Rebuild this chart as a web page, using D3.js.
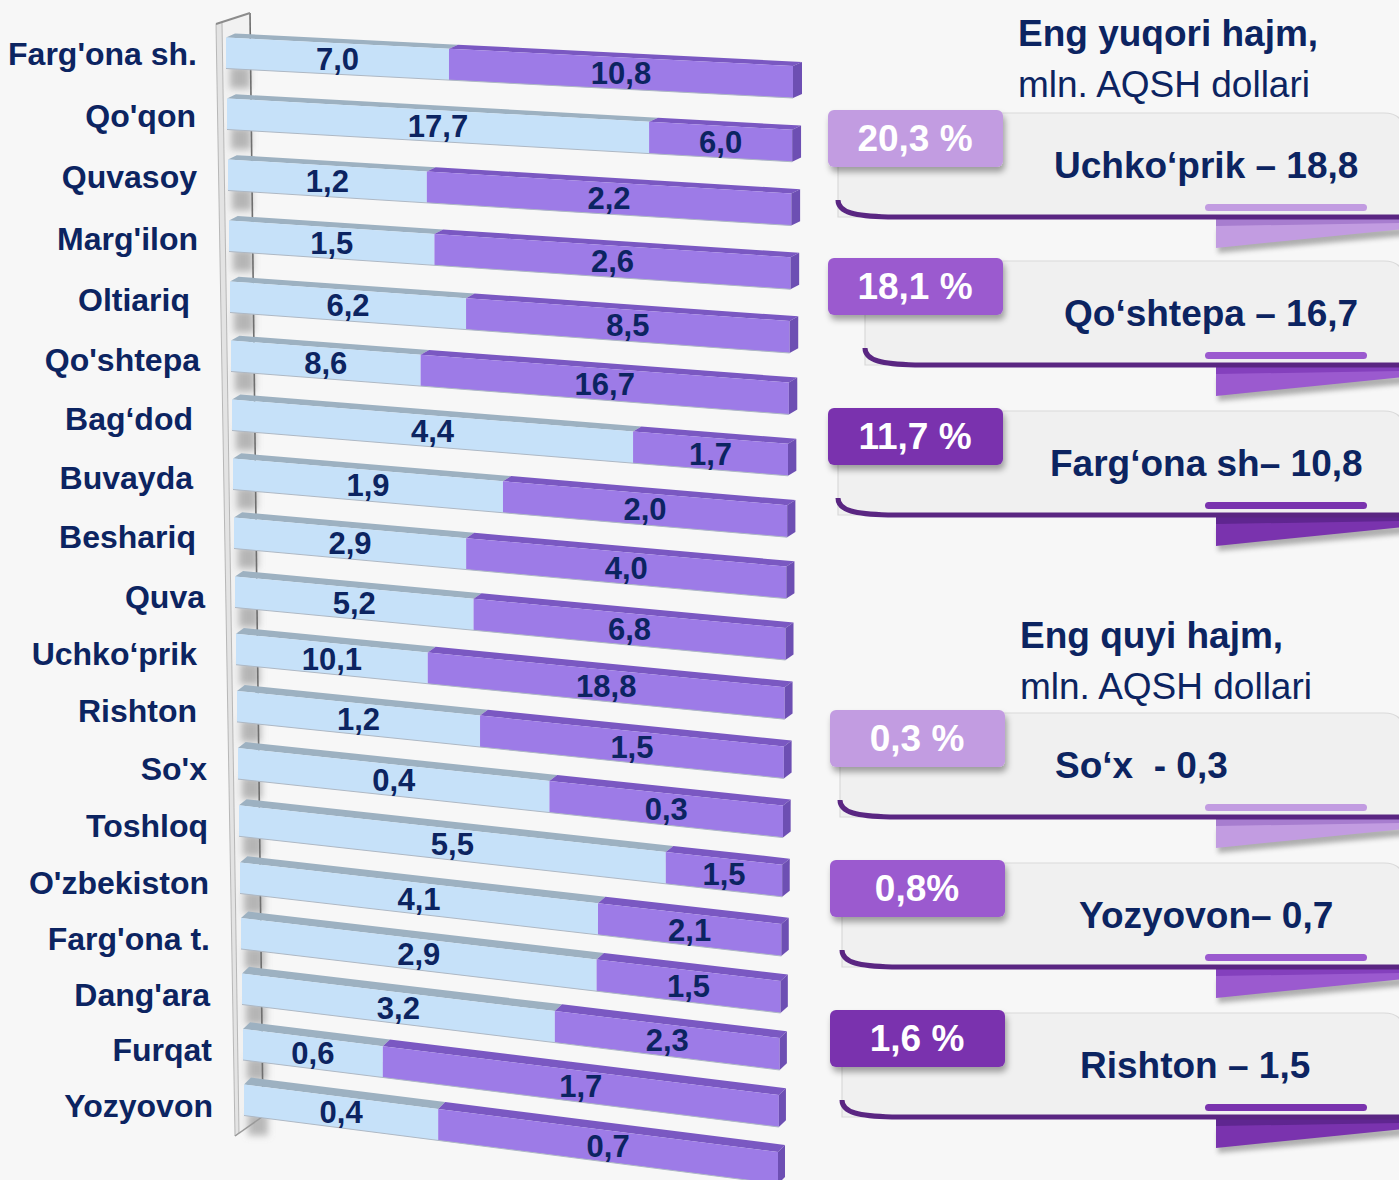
<!DOCTYPE html>
<html><head><meta charset="utf-8">
<script src="https://cdn.jsdelivr.net/npm/d3@7"></script>
<style>
html,body{margin:0;padding:0;background:#f7f7f7;}
svg{display:block;font-family:"Liberation Sans",Arial,sans-serif;}
</style></head><body>
<svg id="chart" width="1399" height="1180"></svg>
<script>
// ---- data ----
const categories = ["Farg'ona sh.", "Qo'qon", "Quvasoy", "Marg'ilon", "Oltiariq ", "Qo'shtepa",
  "Bag‘dod", "Buvayda", "Beshariq", "Quva", "Uchko‘prik", "Rishton", "So'x", "Toshloq",
  "O'zbekiston", "Farg'ona t.", "Dang'ara", "Furqat", "Yozyovon"];
const seriesA = [7.0, 17.7, 1.2, 1.5, 6.2, 8.6, 4.4, 1.9, 2.9, 5.2, 10.1, 1.2, 0.4, 5.5, 4.1, 2.9, 3.2, 0.6, 0.4];
const seriesB = [10.8, 6.0, 2.2, 2.6, 8.5, 16.7, 1.7, 2.0, 4.0, 6.8, 18.8, 1.5, 0.3, 1.5, 2.1, 1.5, 2.3, 1.7, 0.7];

const headings = ["Eng yuqori hajm,", "Eng quyi hajm,"];
const headingUnit = "mln. AQSH dollari";
const calloutPct = ["20,3 %", "18,1 %", "11,7 %", "0,3 %", "0,8%", "1,6 %"];
const calloutText = ["Uchko‘prik – 18,8", "Qo‘shtepa – 16,7", "Farg‘ona sh– 10,8",
  "So‘x  - 0,3", "Yozyovon– 0,7", "Rishton – 1,5"];

// ---- layout ----
const W = 1399, H = 1180;
const navy = "#0c2461";
const faceColors = { a: { front: "#c6e1f9", top: "#9db1c1" }, b: { front: "#9d7be7", top: "#7a58c2", side: "#6d4fb3" } };
const tones = ["#c29ce1", "#9b5acf", "#7a33ae"];
const toneDark = ["#a77dcf", "#8440bd", "#5f2690"];
const calloutTop = [110, 258, 408, 710, 860, 1010];
const calloutTone = [0, 1, 2, 0, 1, 2];
const cardLeft = [838, 865, 838, 840, 842, 842];
const calloutTextX = [1054, 1064, 1050, 1055, 1079, 1080];
const headingY = [46, 648];
// right edge of each category label
const labelRight = [197, 196, 197, 198, 190, 200, 193, 193, 196, 205, 197, 197, 207, 208, 209, 210, 210, 212, 213];

const svg = d3.select("#chart");
svg.append("rect").attr("width", W).attr("height", H).attr("fill", "#f7f7f7");

const defs = svg.append("defs");
defs.append("filter").attr("id", "blur").attr("x", "-50%").attr("y", "-50%").attr("width", "200%").attr("height", "200%")
  .append("feGaussianBlur").attr("stdDeviation", 3.5);
defs.append("filter").attr("id", "tabShadow").attr("x", "-20%").attr("y", "-30%").attr("width", "140%").attr("height", "170%")
  .append("feDropShadow").attr("dx", 2).attr("dy", 5).attr("stdDeviation", 3)
  .attr("flood-color", "#000").attr("flood-opacity", 0.35);
defs.append("filter").attr("id", "softShadow").attr("x", "-20%").attr("y", "-50%").attr("width", "140%").attr("height", "200%")
  .append("feGaussianBlur").attr("stdDeviation", 2.5);

// ---- scales: bars recede in perspective, so each end of the bar gets its own scale ----
const n = categories.length;
const xLeft = d3.scaleLinear().domain([0, n - 1]).range([226, 244]);
const xRight = d3.scaleLinear().domain([0, n - 1]).range([793, 778]);
const yLeft = d3.scaleLinear().domain([0, 4, 9, 14, 18]).range([53, 297, 592, 878, 1100]);
const yRight = d3.scaleLinear().domain([0, 4, 9, 14, 18]).range([82, 337, 644, 940, 1168]);
const depthX = d3.scaleLinear().domain([0, n - 1]).range([9, 7]);
const depthY = d3.scaleLinear().domain([0, n - 1]).range([-4, -7]);
const labelDrop = d3.scaleLinear().domain([0, 5, n - 1]).range([12, 15, 17]);

// point on bar i at fraction f along its length; v = -1 top edge, 0 centre, 1 bottom edge
function pt(i, f, v) {
  const x = xLeft(i) + (xRight(i) - xLeft(i)) * f;
  const yc = yLeft(i) + (yRight(i) - yLeft(i)) * f;
  const h = 15.5 + 0.5 * f;
  return [x, yc + v * h];
}
const shift = (p, i) => [p[0] + depthX(i), p[1] + depthY(i)];
const line = d3.line();
const poly = pts => line(pts) + "Z";

// 100% stacked shares
const rows = categories.map((c, i) => ({ name: c, a: seriesA[i], b: seriesB[i] }));
const stacked = d3.stack().keys(["a", "b"]).offset(d3.stackOffsetExpand)(rows);

// ---- back wall ----
const wall = svg.append("g");
wall.append("path").attr("d", poly([[222, 22], [250, 13], [263, 1117], [239, 1133]])).attr("fill", "#f1f1f1");
const shadows = wall.append("g").attr("filter", "url(#blur)");
rows.forEach((r, i) => {
  const b = pt(i, 0, 1);
  shadows.append("rect").attr("x", b[0] + 4).attr("y", b[1] - 2).attr("width", 20).attr("height", 22)
    .attr("fill", "#8e8e8e").attr("opacity", 0.6);
});
wall.append("path").attr("d", poly([[216, 24], [222, 22], [239, 1133], [235, 1136]]))
  .attr("fill", "#e3e3e3").attr("stroke", "#a9a9a9").attr("stroke-width", 0.8);
wall.append("path").attr("d", line([[250, 13], [263, 1117]])).attr("stroke", "#6f6f6f").attr("stroke-width", 1.6).attr("fill", "none");
wall.append("path").attr("d", line([[216, 24], [250, 13]])).attr("stroke", "#8c8c8c").attr("stroke-width", 2).attr("fill", "none");
wall.append("path").attr("d", line([[235, 1136], [262, 1117]])).attr("stroke", "#9a9a9a").attr("stroke-width", 1.5).attr("fill", "none");

// ---- bars ----
const bars = svg.append("g");
rows.forEach((r, i) => {
  const g = bars.append("g");
  stacked.forEach(layer => {
    const key = layer.key;
    const [f0, f1] = layer[i];
    const c = faceColors[key];
    const t0 = pt(i, f0, -1), t1 = pt(i, f1, -1), b1 = pt(i, f1, 1), b0 = pt(i, f0, 1);
    g.append("path").attr("d", poly([t0, t1, shift(t1, i), shift(t0, i)])).attr("fill", c.top);
    g.append("path").attr("d", poly([t0, t1, b1, b0])).attr("fill", c.front);
    if (key === "b") {
      g.append("path").attr("d", poly([t1, shift(t1, i), shift(b1, i), b1])).attr("fill", c.side);
    }
  });
  g.append("path").attr("d", line([pt(i, 0, 1), pt(i, 1, 1)]))
    .attr("stroke", "#aeb8c4").attr("stroke-width", 1).attr("fill", "none");
});

// value labels, centred on each segment
const valueLabels = svg.append("g").attr("font-size", 31).attr("font-weight", "bold").attr("fill", navy).attr("text-anchor", "middle");
stacked.forEach(layer => {
  layer.forEach((d, i) => {
    const p = pt(i, (d[0] + d[1]) / 2, 0);
    const v = d.data[layer.key];
    valueLabels.append("text").attr("x", p[0]).attr("y", p[1] + 11)
      .text(d3.format(".1f")(v).replace(".", ","));
  });
});

// category labels
svg.append("g").attr("font-size", 32).attr("font-weight", "bold").attr("fill", navy).attr("text-anchor", "end")
  .selectAll("text").data(rows).join("text")
  .attr("x", (d, i) => labelRight[i])
  .attr("y", (d, i) => yLeft(i) + labelDrop(i))
  .text(d => d.name.trim());

// ---- headings ----
const head = svg.append("g").attr("fill", navy).attr("font-size", 37);
headings.forEach((h, k) => {
  head.append("text").attr("x", 1018 + 2 * k).attr("y", headingY[k]).attr("font-weight", "bold").text(h);
  head.append("text").attr("x", 1018 + 2 * k).attr("y", headingY[k] + 51).text(headingUnit);
});

// ---- callout cards ----
const cards = svg.append("g");
calloutPct.forEach((pct, k) => {
  const T = calloutTop[k], L = cardLeft[k], tone = tones[calloutTone[k]], dark = toneDark[calloutTone[k]];
  const g = cards.append("g");
  // card body with rounded top-right corner
  const R = 1404, r = 20;
  g.append("path")
    .attr("d", `M${L},${T + 3} L${R - r},${T + 3} Q${R},${T + 3} ${R},${T + 3 + r} L${R},${T + 107} L${L},${T + 107} Z`)
    .attr("fill", "#f0f0f0").attr("stroke", "#d9d9d9").attr("stroke-width", 1.2);
  // ribbon tail with its shadow
  g.append("path").attr("d", poly([[1218, T + 120], [1404, T + 118], [1404, T + 126], [1218, T + 143]]))
    .attr("fill", "#555").attr("opacity", 0.45).attr("filter", "url(#softShadow)");
  g.append("path").attr("d", poly([[1216, T + 109], [1404, T + 109], [1404, T + 119], [1216, T + 138]])).attr("fill", tone);
  g.append("path").attr("d", poly([[1216, T + 109], [1404, T + 109], [1404, T + 113], [1216, T + 116]])).attr("fill", dark);
  // dark bottom rim curling up on the left
  g.append("path")
    .attr("d", `M${L},${T + 90} C${L},${T + 103} ${L + 18},${T + 106} ${L + 50},${T + 107} L${R},${T + 107}`)
    .attr("fill", "none").attr("stroke", "#5a2682").attr("stroke-width", 5);
  // underline pill
  g.append("rect").attr("x", 1205).attr("y", T + 94).attr("width", 162).attr("height", 7).attr("rx", 3.5).attr("fill", tone);
  // percentage tab
  g.append("rect").attr("x", 828 + (k > 2 ? 2 : 0)).attr("y", T).attr("width", 175).attr("height", 57).attr("rx", 6)
    .attr("fill", tone).attr("filter", "url(#tabShadow)");
  g.append("text").attr("x", 915 + (k > 2 ? 2 : 0)).attr("y", T + 41).attr("text-anchor", "middle")
    .attr("font-size", 37).attr("font-weight", "bold").attr("fill", "#fff").text(pct);
  // callout text
  g.append("text").attr("x", calloutTextX[k]).attr("y", T + 68).style("white-space", "pre")
    .attr("font-size", 37).attr("font-weight", "bold").attr("fill", navy).text(calloutText[k]);
});
</script>
</body></html>
